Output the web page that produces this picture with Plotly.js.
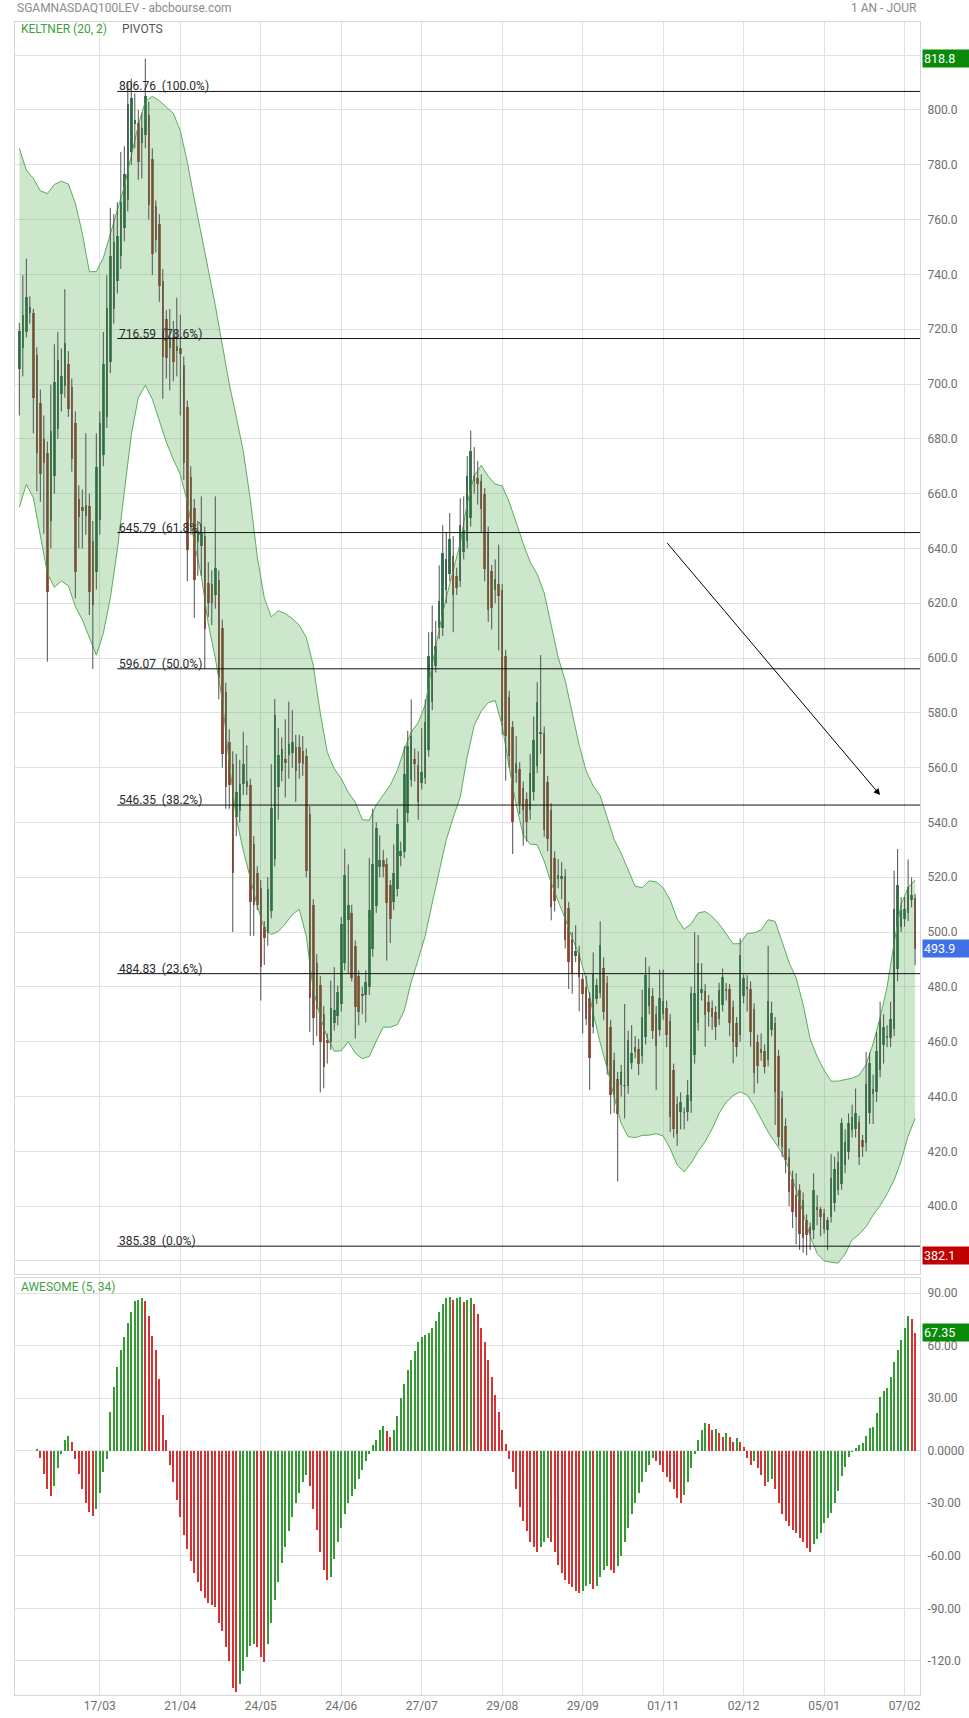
<!DOCTYPE html>
<html><head><meta charset="utf-8">
<script src="https://cdn.plot.ly/plotly-3.0.1.min.js"></script>
<style>html,body{margin:0;padding:0;background:#fff;} #chart{width:969px;height:1718px;}</style>
</head><body><div id="chart"></div>
<script>
// ---- DATA (daily bars, index 0..256) ----
const opens = [705.5,713,719,726,726,710.6,693,680,675,650,
666.3,683.7,696.2,699.3,707.3,699,685.8,658,655,652,
655.6,642.7,631.5,650.5,674,687.8,708,727.4,737.7,746.8,
757,767,784.7,795,795.4,787.8,791,798,782,764.9,
758.5,737.6,723.9,713,717,712,713,706.9,691.5,666,
654.6,642.3,641,644.4,627.4,627,623,628.6,611,587.6,
569.5,561.4,541.9,544.2,554,555.1,553.5,532.3,521.4,516,
501.9,499.7,507.6,526.6,552.9,558.6,563,564.6,565.4,567.4,
567.4,566.2,564.1,543.1,509.7,488.8,480.7,470.1,460.6,459.9,
466.8,469.3,473.7,488.8,504.3,507.1,494.9,483.9,477.4,476.9,
479.9,493.7,509.5,523.9,526.3,524.7,517.3,510.8,515.7,527.9,
529.1,543.4,555.6,563,560.9,554.5,556.4,566.5,583.8,597.2,
611,611,624.9,630.6,637.1,630.1,628.1,638.7,642.8,651,
664.7,665.6,664.7,659.9,645.5,631.9,624.7,627,624.7,600.7,
585.8,574.7,558,559.5,552.7,548.7,544.4,551.2,560.7,572.4,
572.7,554.8,544.6,527.2,519.5,519.5,520.4,508.8,497.4,491.4,
492.2,482.8,480.1,475.9,465.4,475.6,477.9,486.9,481.3,465.2,
453.2,446.4,444.2,444.2,443.7,452.3,456.4,457.3,454.6,461.8,
472.9,476.5,470.2,464.3,470.2,472.4,467.5,449.6,437.1,434.4,
434.4,434.4,438.3,455.1,466.7,477.6,478.6,474.6,472.4,470.7,
468.1,473.4,478.6,479.1,472.7,466.7,462.4,476.6,480,479.4,
471.8,460,456,456.7,453.5,464.2,466.9,454.7,439.6,429.2,
418,410,404,405.8,402.4,395.1,392.2,391.2,398.5,398.8,
397.5,391.2,396.1,401.2,406,408.2,415,419.8,427.7,428,
430.8,424.1,422.9,433.8,442.9,441.7,449.6,458.8,462,461.5,
464.8,486.7,501.9,504.6,506.8,511.7,512.3];
const highs = [722.3,739.7,745.8,732,727.4,713.4,698,688.5,679,699.7,
714.5,719,713,734.6,712,702,690,663,661.5,682,
660,650,682,690,719,739.7,764.3,762,766.3,784.7,
786.8,810.4,811.4,806,800,799,818.8,803,786,767,
762,742,727,727.4,723,731.5,725.3,710,694,670,
658,650,659,648,635,632,659,632,614,591,
574,566,565,562.9,573.1,568.2,556,535,524,519,
504,520,561.3,585,574.4,571,577.6,584.1,581,572,
572,571.5,567,546,512,492,484,473,463,482.3,
487.2,480.5,505.5,530.4,524.7,510,497,486,480,486,
527.1,545,540,535.3,530,527,519,532,545,533,
567.8,573.5,584.9,567,566,574.4,584.9,609.4,619.2,613.5,
633.8,648.5,646,652.9,644.5,633,658.3,659,673.7,683,
677,671.9,667,662,648,634,636,641.4,627,603,
588,577,571.5,562,555,551,565,578.6,591.2,601.1,
575,557,547,529.5,526.6,525.5,523,511,500,502.5,
495,485,484,478,492.6,483,503.9,490.8,484,468,
456,449,451.5,473.8,464,466,462,461,479,490.8,
487.5,479.5,473,486.2,486.3,475,470,452,440,441.5,
436,446,480,500,498.9,488.6,481,477,475,473,
481.5,486.7,481.5,481,475,469,497.7,484.5,484.3,482,
474,462.5,463,459,495,474.6,469,457,442,432,
421,413,412,408,405,397,394,411.9,404,399.7,
399,396,419,418,420,432,428,433.8,437,442.9,
433,426,456.3,456,448,463.6,474.6,470,466,474.6,
522.4,530.3,512.8,512.8,526.5,520,514];
const lows = [688.5,702.8,717,722,682,660.8,657,645.4,598.7,640,
660,680,690,695,688,668,621.8,640,640,645,
615.7,596,625,645,670,684,704,722,733,742,
752,763,780,786,774.5,775,786,760,739.7,748,
730,694.6,702,697.7,701,702.8,688.5,665,628,645,
614.7,630,630,596,615,612,618,585,560,545,
545,500,535,540,550,550,498.6,498.6,508,475,
488,495,505,524,541,555,549.1,556,560,547.5,
556,557,520,463.6,458.7,462,441.5,443,452,457,
464,466,471,486,485,482,461.1,466,470,467,
477,491,507,520,520,489.6,496,508,513,524,
527,540,553,555,541,552,554,564,581,594.7,
607,608,620,628,609.4,623,626,636,640,648,
660,656,645.9,628,613.2,610.4,620,602.8,572,555.3,
560,528.5,554.5,543,531.5,533,541,548,558,565,
534.7,529.5,504.3,507.5,516,512,494,479.2,477.5,489,
471.1,463,466,442.4,463,473.7,476,468,448,433.5,
434,409,440,432,441,450,454,447.8,452,459,
470,461,442.4,462,468,458,427,425,422,428,
428,431,434,452,464,475,458.2,465.5,464.3,460.6,
466,471,475,462,452.1,454.5,460,474,471,458.2,
441.1,444.8,453,448.4,451,462,429.6,422,418,412,
400,392,386,384,383,382.1,384,388,393,389,
390,383.9,394,398,404,406,412,417,425,425,
415,418,420,430,430,438,447,452,458,458,
462,482,500,502,504,509,487.9];
const closes = [719.2,725.3,731.9,728,695,675,667,671,624,682.7,
700.7,708.9,702.8,715,691,672.5,631.5,651.6,653.5,656,
624,619.4,669.6,685.8,707.3,727.8,746.8,752,754,766.3,
776.6,802.2,804.2,796.5,781,793.6,805.2,765.3,747.3,752.6,
735.6,710,709.6,717.1,708,714,711,671,639.3,649.5,
628.6,646.4,646,610.6,620.2,620,633,592.7,565,553,
553.6,521.4,551.1,554,561.3,552.9,511.1,510,510,487.2,
497.8,515.7,545.4,579.2,564.6,566.9,561.8,568.6,569.5,558.6,
561.8,561.3,522.2,476.1,468.5,472,459.8,450.9,459.4,472.3,
471.7,478.2,503,520.9,509.7,483.4,472.5,470.9,476.6,481.8,
507.9,524.7,538,526.3,523.9,510.5,504.6,521.4,539.3,529.6,
557.7,567.8,571.4,561.3,547.5,558.4,576.8,600.8,609.4,604.5,
620.8,638.4,636.3,643.6,622.9,625.7,648.5,646.9,666.4,675.4,
666.5,663.4,654.5,632.4,617.7,618.1,628.8,622.6,576.9,571.5,
564.3,540.1,561.6,546.9,544.6,540.1,558,570.1,584,572.9,
537.4,533.8,509.3,511.4,520.8,520.4,497.1,489,484.9,493.2,
483.7,477.4,468.4,454.1,485.1,480.6,495.3,470.8,451,440.6,
440.6,433.5,449.1,443.7,460.7,455.9,458.2,451.7,469.1,484.5,
479.5,463.9,458.6,475.9,474.7,462.5,432.6,428.1,426.3,437.9,
433.8,440.6,477.7,477.6,488.6,479.4,469.7,470.9,468.9,465.2,
478.8,483.7,479.4,466.9,460,458.2,491.6,483.1,479.1,463.6,
448.6,451.1,457.5,450.6,474.8,470.3,441.7,425.3,421.6,416.8,
405,398,396,390,388.2,389.4,390,405.8,399.5,396.1,
391.8,394.9,410.1,413.7,416,430.2,423.5,430.2,432.6,433.8,
418,421.6,444.5,452.3,440.9,456.7,468.1,465.2,461.2,468.1,
508.6,517.2,508,508.6,516.3,513.5,493.9];

// Keltner (20, 2) bands, one value every 2 bars (bar 0, 2, 4, ... 256)
const keltnerUpper = [786,778,775,770.5,769.5,772.8,774,773,766,755,
741,741,746,755,763.4,772,783,794.5,803,805,
803.4,801,798.8,792.4,781,767.5,754,741.7,728.7,714.5,
700,688,675.5,658,637,622,615,617.3,616.2,614.4,
612,607.6,597.3,580,565.6,559.6,556,551,547.4,541,
540.8,546.4,550.2,553.6,559,566.6,573,576.4,583,597.7,
610.5,622,632,642,656.5,666.5,670.3,666.3,663.5,662.8,
657,649,641.8,635,630.6,623.8,611.5,600.2,591.8,580.5,
568.2,558.8,553.3,549.8,542,533.8,528.7,522.8,516.7,516.2,
518.7,518.3,516.2,511.7,504.8,501.1,503,507,507.5,505.7,
502.9,499.4,495.7,495.8,499.5,499.7,500.8,504.5,503.9,496.5,
488.8,483.3,473.6,461,454.6,449.6,445.6,445.6,446.1,446.7,
447.8,451.6,459.3,468.8,480,496,510.2,516.2,519];
const keltnerLower = [655,663.4,658.5,645.4,631,625.8,628.1,626.4,618.8,614,
607.4,601.1,609,621.8,639.5,660,681.5,695,699.5,694.5,
686.6,678.8,672.5,667,657,642,630,612.5,600,584.7,
561.6,541.5,529.8,520,509.6,501.3,499.1,500.2,503,506.4,
508.3,498.5,479,469,461.4,456.5,456.7,460,455.8,453.8,
454.6,460.2,465.3,465.3,466.2,471.3,481.8,490,498.6,510.6,
522.5,533.6,541.8,549.2,564,575.4,580.6,583.7,584.5,575.2,
560.1,546.5,535.4,532.1,531.9,525.9,517.9,511.5,504.8,497.8,
491.7,482.7,470.4,459.6,450.3,439.8,430.2,425.3,425,425.8,
425.9,426.4,425.6,421,415,412.5,415.7,420,423.5,428.2,
433.9,437.9,440.3,441.7,440.6,436.6,431.6,427,423.2,419.3,
413.5,406,397.5,389,382.7,380,379.5,379.2,382.5,387.7,
389.7,392.5,396.7,400.2,404.5,409.5,416.5,425.5,432];

// Awesome oscillator (5, 34), one value per bar
const awesome = [null,null,null,null,null,1,-4,-13,-22,-26,
-20,-10,-2,6,8.5,5,-5,-13,-22,-30,
-35,-37,-33,-24,-12,-5,22,36.6,47.7,57.6,
64.9,73.2,79.3,85.6,86.2,87.1,85.6,77,65.6,57.6,
41.2,20.6,6.2,-8,-18,-28,-38,-48,-56,-63,
-70,-75,-80,-84,-86.8,-88.1,-89.1,-98.3,-103,-112.2,
-119.9,-135.6,-137.6,-133,-125.7,-118,-111.6,-110.2,-112.2,-118,
-120.5,-110.6,-98.3,-85,-75,-64,-55,-46,-38,-30,
-24,-18,-14,-20,-33,-45,-58,-68,-74,-72,
-62,-52,-44,-36,-30,-26,-22,-16,-11,-6,
-2,3,6,12,14,11,8,12,20,30,
38,46,52,57,62,65,66,67,70,74,
79,84,87,88,86,87,88,85,86,87.5,
84,78,70,62,52,42,32,22,12,4,
-5,-12,-22,-32,-40,-46,-52,-55,-58,-55,
-52,-50,-52,-58,-65,-70,-74,-76,-78,-80,
-81,-80,-77,-76,-79,-77,-72,-68,-66,-68,
-70,-66,-60,-52,-44,-36,-30,-24,-18,-12,
-8,-4,-6,-8,-12,-15,-18,-22,-27,-30,
-25,-18,-10,-2,6,12,16,15,12,12.5,
10,8,10,8,5,7,5,2,-4,-8,
-6,-10,-14,-20,-18,-16,-22,-30,-36,-40,
-43,-45,-47,-50,-52,-55.7,-57.6,-53.5,-50.6,-47.2,
-41.5,-38.6,-35.7,-30,-22.8,-14.4,-9.1,-3.4,-0.5,1.4,
3.3,4.6,8.5,13.2,13.6,21.4,30.9,34.4,35.9,42,
50.4,57.6,63.3,70,77,75.1,67.35];

const dateTickIndex = [23,46,69,92,115,138,161,184,207,230,253];
const dateTickLabels = ['17/03','21/04','24/05','24/06','27/07','29/08','29/09','01/11','02/12','05/01','07/02'];
const priceTicks = [380,400,420,440,460,480,500,520,540,560,580,600,620,640,660,680,700,720,740,760,780,800,820];
const priceTickLabels = ['','400.0','420.0','440.0','460.0','480.0','500.0','520.0','540.0','560.0','580.0','600.0','620.0','640.0','660.0','680.0','700.0','720.0','740.0','760.0','780.0','800.0','820.0'];
const aoTicks = [-120,-90,-60,-30,0,30,60,90];
const aoTickLabels = ['-120.0','-90.00','-60.00','-30.00','0.0000','30.00','60.00','90.00'];
const fibLevels = [806.76,716.59,645.79,596.07,546.35,484.83,385.38];
const fibPct = ['100.0%','78.6%','61.8%','50.0%','38.2%','23.6%','0.0%'];
const fibStartIndex = 28;
const arrowFrom = [184.8, 642.5];
const arrowTo = [246, 550];

// ---- BUILD ----
const N = closes.length;
const idx = closes.map((_, i) => i);
const bandIdx = keltnerUpper.map((_, k) => k * 2);

const GREEN_BODY = '#2d8450', RED_BODY = '#b4523a', WICK = '#505050';
const wx = [], wy = [];
for (let i = 0; i < N; i++) { wx.push(i, i, null); wy.push(lows[i], highs[i], null); }
const gx = [], gb = [], gh = [], rx = [], rb = [], rh = [];
for (let i = 0; i < N; i++) {
  const lo = Math.min(opens[i], closes[i]);
  const h = Math.max(Math.abs(closes[i] - opens[i]), 0.6);
  if (closes[i] >= opens[i]) { gx.push(i); gb.push(lo); gh.push(h); }
  else { rx.push(i); rb.push(lo); rh.push(h); }
}
const aoColors = awesome.map((v, i) => {
  if (v === null) return 'rgba(0,0,0,0)';
  const p = i > 0 ? awesome[i - 1] : null;
  return (p === null || v >= p) ? '#349a34' : '#d43333';
});

const traces = [
  {x: bandIdx, y: keltnerLower, type: 'scatter', mode: 'lines', line: {color: '#5aad5a', width: 1}, xaxis: 'x', yaxis: 'y', hoverinfo: 'skip'},
  {x: bandIdx, y: keltnerUpper, type: 'scatter', mode: 'lines', line: {color: '#5aad5a', width: 1}, fill: 'tonexty', fillcolor: 'rgba(90,175,90,0.30)', xaxis: 'x', yaxis: 'y', hoverinfo: 'skip'},
  {x: wx, y: wy, type: 'scatter', mode: 'lines', line: {color: WICK, width: 1}, xaxis: 'x', yaxis: 'y', hoverinfo: 'skip'},
  {x: gx, y: gh, base: gb, type: 'bar', width: 0.72, marker: {color: GREEN_BODY, line: {width: 0}}, xaxis: 'x', yaxis: 'y', hoverinfo: 'skip'},
  {x: rx, y: rh, base: rb, type: 'bar', width: 0.72, marker: {color: RED_BODY, line: {width: 0}}, xaxis: 'x', yaxis: 'y', hoverinfo: 'skip'},
  {x: idx, y: awesome, type: 'bar', width: 0.58, marker: {color: aoColors, line: {width: 0}}, xaxis: 'x2', yaxis: 'y2', hoverinfo: 'skip'}
];

const maxHigh = Math.max(...highs), minLow = Math.min(...lows), lastClose = closes[N - 1];
const lastAO = awesome[N - 1];

const FONT = 'Roboto, "Open Sans", sans-serif';
const GRID = '#e1e1e1', FRAME = '#d6d6d6';
const xRange = [-1.24, 257.4];

const shapes = fibLevels.map(l => ({type: 'line', xref: 'x', yref: 'y', x0: fibStartIndex, x1: xRange[1], y0: l, y1: l, line: {color: '#111', width: 1}}));

const annotations = [];
fibLevels.forEach((l, k) => annotations.push({
  xref: 'x', yref: 'y', x: fibStartIndex, y: l, xanchor: 'left', yanchor: 'bottom', yshift: -4,
  text: l.toFixed(2) + '\u00a0\u00a0(' + fibPct[k] + ')', showarrow: false,
  font: {family: FONT, size: 12, color: '#2a2a2a'}
}));
annotations.push({xref: 'x', yref: 'y', axref: 'x', ayref: 'y', x: arrowTo[0], y: arrowTo[1], ax: arrowFrom[0], ay: arrowFrom[1],
  showarrow: true, arrowhead: 2, arrowsize: 1.3, arrowwidth: 1, arrowcolor: '#000', text: ''});
function valueBox(val, txt, yref, color) {
  return {xref: 'paper', yref: yref, x: 1, y: val, xanchor: 'left', yanchor: 'middle', xshift: 2,
    text: txt, showarrow: false, bgcolor: color, width: 44, height: 15, align: 'left', borderpad: 1,
    font: {family: FONT, size: 12.5, color: '#fff'}};
}
annotations.push(valueBox(maxHigh, maxHigh.toFixed(1), 'y', '#0a8a0a'));
annotations.push(valueBox(lastClose, lastClose.toFixed(1), 'y', '#4070e6'));
annotations.push(valueBox(minLow, minLow.toFixed(1), 'y', '#c00000'));
annotations.push(valueBox(lastAO, lastAO.toFixed(2), 'y2', '#0a8a0a'));
annotations.push({xref: 'paper', yref: 'paper', x: 0, y: 1.0085, xanchor: 'left', yanchor: 'middle', showarrow: false,
  text: 'SGAMNASDAQ100LEV - abcbourse.com', font: {family: FONT, size: 12, color: '#8a8a8a'}});
annotations.push({xref: 'paper', yref: 'paper', x: 0.999, y: 1.0085, xanchor: 'right', yanchor: 'middle', showarrow: false,
  text: '1 AN - JOUR', font: {family: FONT, size: 12, color: '#8a8a8a'}});
annotations.push({xref: 'paper', yref: 'paper', x: 0.004, y: 0.9957, xanchor: 'left', yanchor: 'middle', showarrow: false,
  text: 'KELTNER (20, 2)', font: {family: FONT, size: 12, color: '#3da23d'}});
annotations.push({xref: 'paper', yref: 'paper', x: 0.116, y: 0.9957, xanchor: 'left', yanchor: 'middle', showarrow: false,
  text: 'PIVOTS', font: {family: FONT, size: 12, color: '#555'}});
annotations.push({xref: 'paper', yref: 'paper', x: 0.004, y: 0.2437, xanchor: 'left', yanchor: 'middle', showarrow: false,
  text: 'AWESOME (5, 34)', font: {family: FONT, size: 12, color: '#3da23d'}});

const axisCommon = {showgrid: true, gridcolor: GRID, gridwidth: 1, zeroline: false, showline: true, mirror: true, linecolor: FRAME, linewidth: 1, ticks: '', fixedrange: true};
const layout = {
  width: 969, height: 1718,
  margin: {l: 15, r: 49, t: 22, b: 23},
  paper_bgcolor: '#fff', plot_bgcolor: '#fff',
  showlegend: false, barmode: 'overlay', bargap: 0,
  font: {family: FONT, color: '#6e6e6e', size: 12},
  xaxis: Object.assign({}, axisCommon, {domain: [0, 1], anchor: 'y', range: xRange, tickmode: 'array', tickvals: dateTickIndex, ticktext: dateTickLabels, showticklabels: false}),
  xaxis2: Object.assign({}, axisCommon, {domain: [0, 1], anchor: 'y2', matches: 'x', range: xRange, tickmode: 'array', tickvals: dateTickIndex, ticktext: dateTickLabels, showticklabels: true, tickfont: {family: FONT, size: 12, color: '#6e6e6e'}}),
  yaxis: Object.assign({}, axisCommon, {domain: [0.2516, 1], anchor: 'x', side: 'right', range: [375.2, 832.1], tickmode: 'array', tickvals: priceTicks, ticktext: priceTickLabels, ticklabelstandoff: 4, tickfont: {family: FONT, size: 12, color: '#6e6e6e'}}),
  yaxis2: Object.assign({}, axisCommon, {domain: [0, 0.2493], anchor: 'x2', side: 'right', range: [-139.5, 98.7], tickmode: 'array', tickvals: aoTicks, ticktext: aoTickLabels, ticklabelstandoff: 4, tickfont: {family: FONT, size: 12, color: '#6e6e6e'}}),
  shapes: shapes,
  annotations: annotations
};
Plotly.newPlot('chart', traces, layout, {displayModeBar: false, staticPlot: true});
</script>
</body></html>
